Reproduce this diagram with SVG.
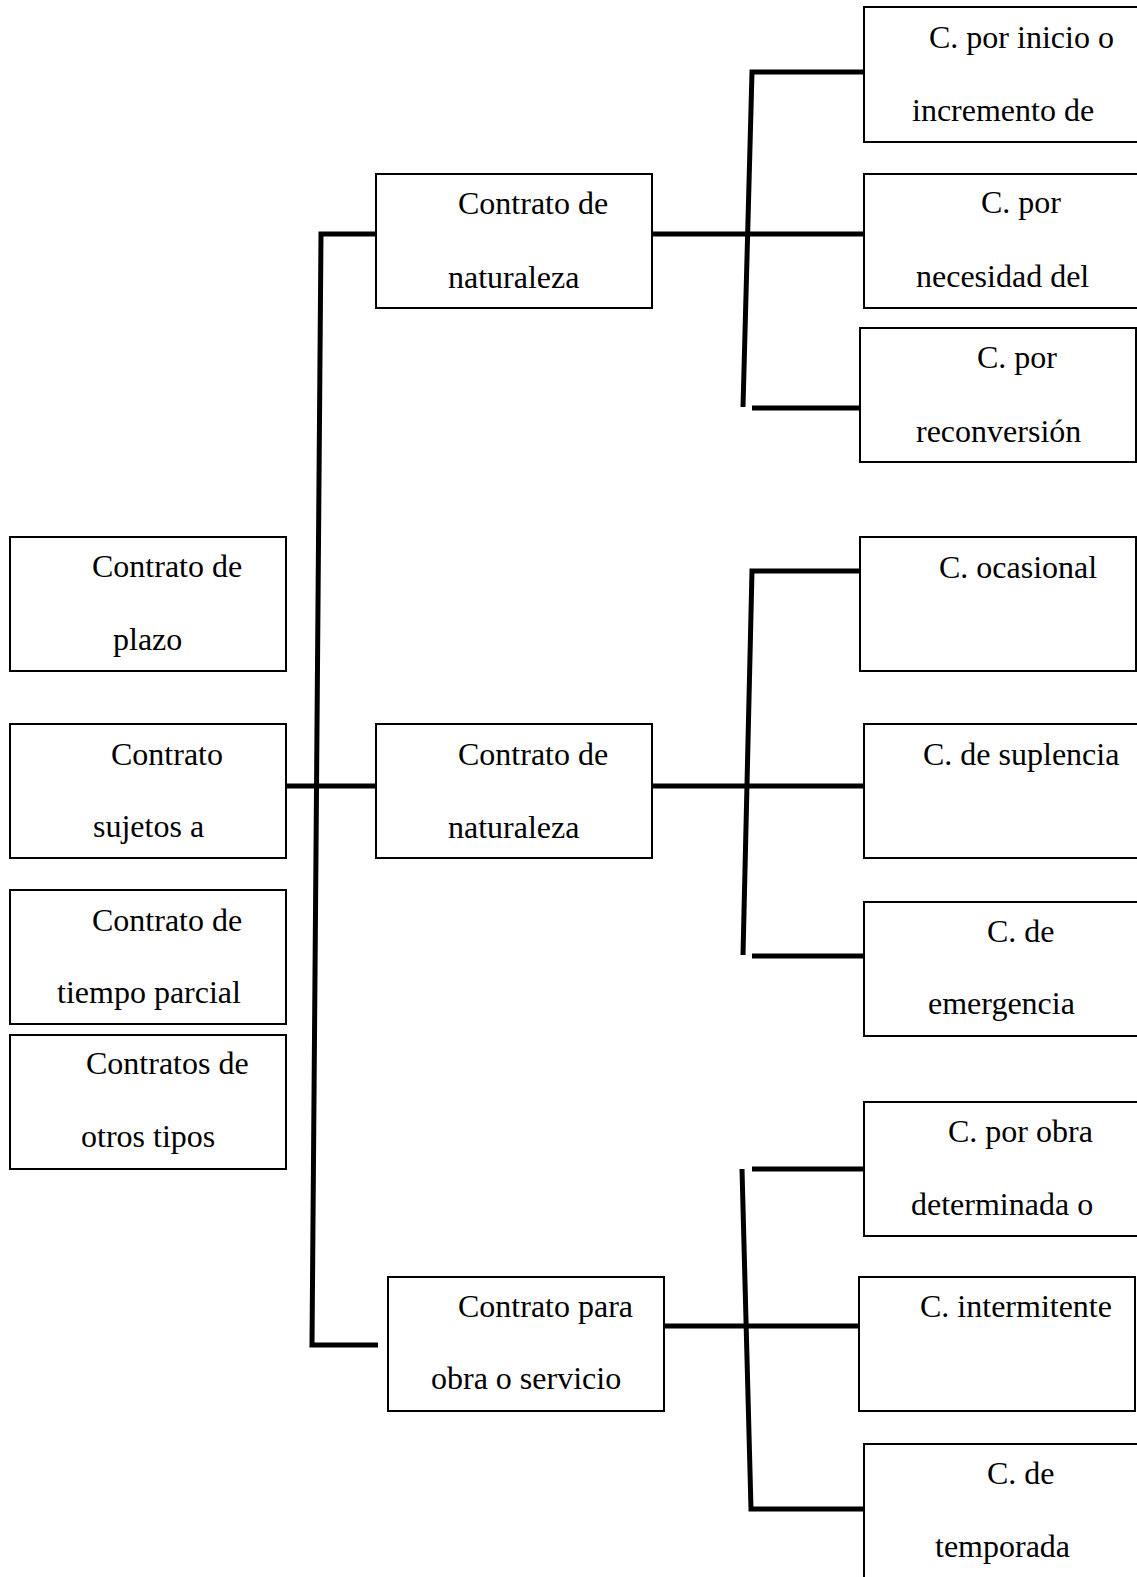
<svg xmlns="http://www.w3.org/2000/svg" width="1137" height="1577" viewBox="0 0 1137 1577">
<style>
.box{fill:#fff;stroke:#000;stroke-width:2}
.t{font-family:"Liberation Serif","Times New Roman",serif;font-size:32px;fill:#000}
.c{fill:none;stroke:#000;stroke-width:5;stroke-linecap:butt;stroke-linejoin:miter}
</style>
<rect width="1137" height="1577" fill="#fff"/>
<g id="connectors">
<polyline class="c" points="376,234 321,234 312,1345 378,1345"/>
<line class="c" x1="286" y1="786" x2="376" y2="786"/>
<line class="c" x1="652" y1="234" x2="863" y2="234"/>
<polyline class="c" points="863,72 752,72 743,407"/>
<line class="c" x1="752" y1="408" x2="863" y2="408"/>
<line class="c" x1="652" y1="786" x2="863" y2="786"/>
<polyline class="c" points="863,571 752,571 743,955"/>
<line class="c" x1="752" y1="956" x2="863" y2="956"/>
<line class="c" x1="664" y1="1326" x2="863" y2="1326"/>
<polyline class="c" points="742,1169 751,1509 863,1509"/>
<line class="c" x1="752" y1="1169" x2="863" y2="1169"/>
</g>
<g id="plazo"><rect class="box" x="10" y="537" width="276" height="134"/><text class="t" x="92" y="577">Contrato de</text><text class="t" x="113" y="650">plazo</text></g>
<g id="sujetos"><rect class="box" x="10" y="724" width="276" height="134"/><text class="t" x="111" y="765">Contrato</text><text class="t" x="93" y="837">sujetos a</text></g>
<g id="tiempo"><rect class="box" x="10" y="890" width="276" height="134"/><text class="t" x="92" y="931">Contrato de</text><text class="t" x="57" y="1003">tiempo parcial</text></g>
<g id="otros"><rect class="box" x="10" y="1035" width="276" height="134"/><text class="t" x="86" y="1074">Contratos de</text><text class="t" x="81" y="1147">otros tipos</text></g>
<g id="naturaleza1"><rect class="box" x="376" y="174" width="276" height="134"/><text class="t" x="458" y="214">Contrato de</text><text class="t" x="448" y="288">naturaleza</text></g>
<g id="naturaleza2"><rect class="box" x="376" y="724" width="276" height="134"/><text class="t" x="458" y="765">Contrato de</text><text class="t" x="448" y="838">naturaleza</text></g>
<g id="obra"><rect class="box" x="388" y="1277" width="276" height="134"/><text class="t" x="458" y="1317">Contrato para</text><text class="t" x="431" y="1389">obra o servicio</text></g>
<g id="inicio"><rect class="box" x="864" y="7" width="290" height="135"/><text class="t" x="929" y="48">C. por inicio o</text><text class="t" x="912" y="121">incremento de</text></g>
<g id="necesidad"><rect class="box" x="864" y="174" width="290" height="134"/><text class="t" x="981" y="213">C. por</text><text class="t" x="916" y="287">necesidad del</text></g>
<g id="reconversion"><rect class="box" x="860" y="328" width="276" height="134"/><text class="t" x="977" y="368">C. por</text><text class="t" x="916" y="442">reconversión</text></g>
<g id="ocasional"><rect class="box" x="860" y="537" width="276" height="134"/><text class="t" x="939" y="578">C. ocasional</text></g>
<g id="suplencia"><rect class="box" x="864" y="724" width="290" height="134"/><text class="t" x="923" y="765">C. de suplencia</text></g>
<g id="emergencia"><rect class="box" x="864" y="902" width="290" height="134"/><text class="t" x="987" y="942">C. de</text><text class="t" x="928" y="1014">emergencia</text></g>
<g id="determinada"><rect class="box" x="864" y="1102" width="290" height="134"/><text class="t" x="948" y="1142">C. por obra</text><text class="t" x="911" y="1215">determinada o</text></g>
<g id="intermitente"><rect class="box" x="859" y="1277" width="276" height="134"/><text class="t" x="920" y="1317">C. intermitente</text></g>
<g id="temporada"><rect class="box" x="864" y="1444" width="290" height="200"/><text class="t" x="987" y="1484">C. de</text><text class="t" x="935" y="1557">temporada</text></g>
</svg>
